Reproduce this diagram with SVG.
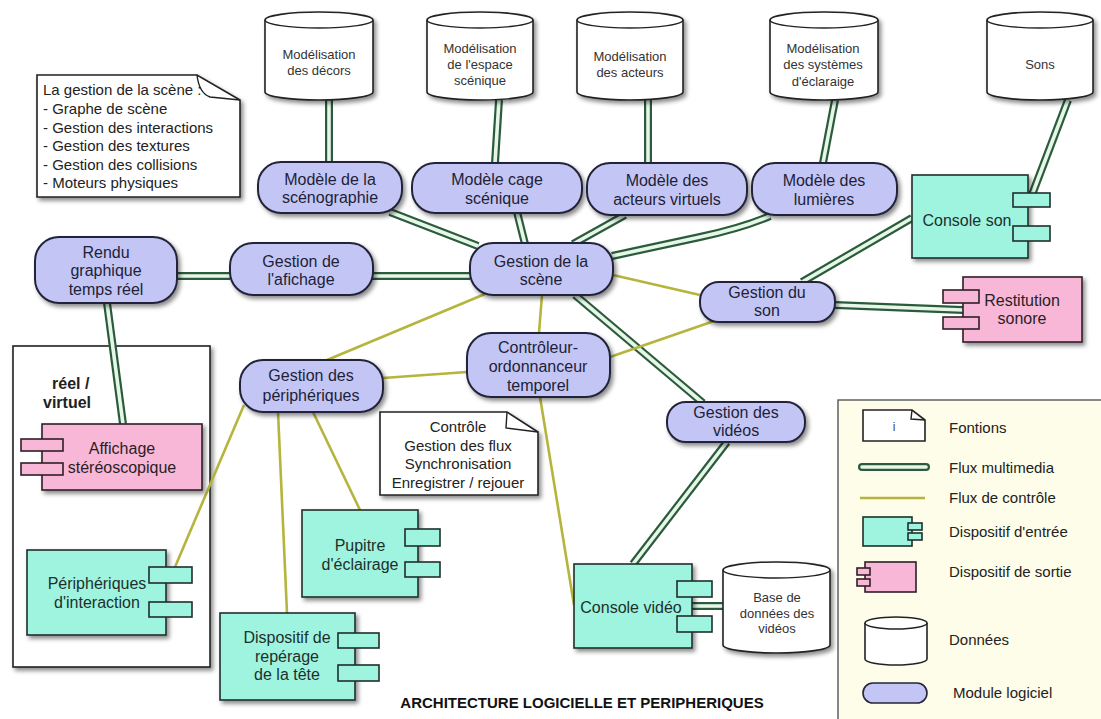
<svg xmlns="http://www.w3.org/2000/svg" xmlns:xlink="http://www.w3.org/1999/xlink" width="1101" height="719" viewBox="0 0 1101 719">
<defs>
<filter id="sh" x="-20%" y="-20%" width="140%" height="150%">
<feDropShadow dx="2.5" dy="3" stdDeviation="2" flood-color="#000" flood-opacity="0.45"/>
</filter>
<style>
text{font-family:"Liberation Sans",Arial,sans-serif}
.mod{fill:#c3c6f4;stroke:#24243a;stroke-width:2;filter:url(#sh)}
.in{fill:#9ff4df;stroke:#1f2f2b;stroke-width:1.6}
.out{fill:#f8b7d6;stroke:#2e1f27;stroke-width:1.6}
.sh{filter:url(#sh)}
.cyl{fill:#fff;stroke:#222;stroke-width:1.6}
.note{fill:#fff;stroke:#222;stroke-width:1.6}
.fold{fill:none;stroke:#222;stroke-width:1.4}
.po{stroke:#2b5b3b;stroke-width:8;fill:none;stroke-linejoin:round}
.pi{stroke:#e6f7ea;stroke-width:3.6;fill:none;stroke-linejoin:round}
.ctl{stroke:#b5b53d;stroke-width:2.6;fill:none}
.tm{font-size:16px;fill:#1e2238;text-anchor:middle}
.tb{font-size:16px;fill:#1d302c;text-anchor:middle}
.tc{font-size:13px;fill:#333;text-anchor:middle}
.tn{font-size:15px;fill:#222}
.tl{font-size:15px;fill:#222}
</style>
<path id="p1" d="M329,100 V162"/>
<path id="p2" d="M499,100 L495,163"/>
<path id="p3" d="M648,100 V163"/>
<path id="p4" d="M835,100 L823,163"/>
<path id="p5" d="M1068,100 L1030,200"/>
<path id="p6" d="M390,212 L478,246"/>
<path id="p7" d="M517,212 L525,244"/>
<path id="p8" d="M625,215 L573,244"/>
<path id="p9" d="M770,216 Q742,228 700,237 L612,256"/>
<path id="p10" d="M177,276 H230"/>
<path id="p11" d="M372,276 H470"/>
<path id="p12" d="M107,303 L123,424"/>
<path id="p13" d="M575,295 L703,403"/>
<path id="p14" d="M802,282 L912,218"/>
<path id="p15" d="M835,305 L963,310"/>
<path id="p16" d="M727,442 L633,564"/>
<path id="p17" d="M692,606 H723"/>
</defs>
<rect width="1101" height="719" fill="#fff"/>

<g id="container-reel-virtuel">
<rect x="13" y="346" width="197" height="321" class="note sh"/>
<text x="52" y="389" style="font-size:16px;font-weight:bold;fill:#222">réel /</text>
<text x="43" y="408" style="font-size:16px;font-weight:bold;fill:#222">virtuel</text>
</g>

<g id="connectors">
<g class="po">
<use xlink:href="#p1"/><use xlink:href="#p2"/><use xlink:href="#p3"/><use xlink:href="#p4"/><use xlink:href="#p5"/><use xlink:href="#p6"/><use xlink:href="#p7"/><use xlink:href="#p8"/><use xlink:href="#p9"/><use xlink:href="#p10"/><use xlink:href="#p11"/><use xlink:href="#p12"/><use xlink:href="#p13"/><use xlink:href="#p14"/><use xlink:href="#p15"/><use xlink:href="#p16"/><use xlink:href="#p17"/>
</g>
<g class="pi">
<use xlink:href="#p1"/><use xlink:href="#p2"/><use xlink:href="#p3"/><use xlink:href="#p4"/><use xlink:href="#p5"/><use xlink:href="#p6"/><use xlink:href="#p7"/><use xlink:href="#p8"/><use xlink:href="#p9"/><use xlink:href="#p10"/><use xlink:href="#p11"/><use xlink:href="#p12"/><use xlink:href="#p13"/><use xlink:href="#p14"/><use xlink:href="#p15"/><use xlink:href="#p16"/><use xlink:href="#p17"/>
</g>
<g class="ctl">
<path d="M485,294 L327,360"/>
<path d="M542,295 L539,333"/>
<path d="M613,275 L700,295"/>
<path d="M610,357 L717,320"/>
<path d="M383,378 L467,372"/>
<path d="M540,397 L574,605"/>
<path d="M244,405 L175,567"/>
<path d="M278,412 L287,613"/>
<path d="M313,412 L360,510"/>
</g>
</g>

<g id="cyl-decors">
<path class="cyl sh" d="M265,20 A54,8 0 0 1 373,20 V92 A54,8 0 0 1 265,92 Z"/>
<path class="fold" d="M265,20 A54,8 0 0 0 373,20"/>
<text class="tc" x="319" y="58.5">Modélisation</text>
<text class="tc" x="319" y="74.5">des décors</text>
</g>
<g id="cyl-espace">
<path class="cyl sh" d="M427,20 A53,8 0 0 1 533,20 V92 A53,8 0 0 1 427,92 Z"/>
<path class="fold" d="M427,20 A53,8 0 0 0 533,20"/>
<text class="tc" x="480" y="52.5">Modélisation</text>
<text class="tc" x="480" y="68.5">de l'espace</text>
<text class="tc" x="480" y="84.5">scénique</text>
</g>
<g id="cyl-acteurs">
<path class="cyl sh" d="M577,20 A53,8 0 0 1 683,20 V92 A53,8 0 0 1 577,92 Z"/>
<path class="fold" d="M577,20 A53,8 0 0 0 683,20"/>
<text class="tc" x="630" y="60.5">Modélisation</text>
<text class="tc" x="630" y="76.5">des acteurs</text>
</g>
<g id="cyl-eclairage">
<path class="cyl sh" d="M770,20 A54,8 0 0 1 878,20 V92 A54,8 0 0 1 770,92 Z"/>
<path class="fold" d="M770,20 A54,8 0 0 0 878,20"/>
<text class="tc" x="823" y="52.5">Modélisation</text>
<text class="tc" x="823" y="69">des systèmes</text>
<text class="tc" x="823" y="85.5">d'éclaraige</text>
</g>
<g id="cyl-sons">
<path class="cyl sh" d="M987,20 A53,8 0 0 1 1093,20 V92 A53,8 0 0 1 987,92 Z"/>
<path class="fold" d="M987,20 A53,8 0 0 0 1093,20"/>
<text class="tc" x="1040" y="68.5">Sons</text>
</g>
<g id="cyl-videos">
<path class="cyl sh" d="M723,570 A53.5,8 0 0 1 830,570 V645 A53.5,8 0 0 1 723,645 Z"/>
<path class="fold" d="M723,570 A53.5,8 0 0 0 830,570"/>
<text class="tc" x="777" y="601.5">Base de</text>
<text class="tc" x="777" y="617.5">données des</text>
<text class="tc" x="777" y="633">vidéos</text>
</g>

<g id="note-gestion-scene">
<path class="note sh" d="M37,75 H197 L240,100 V197 H37 Z"/>
<path class="fold" d="M197,75 Q199,93 210,97 L240,100"/>
<text class="tn" x="43" y="95">La gestion de la scène :</text>
<text class="tn" x="43" y="114">- Graphe de scène</text>
<text class="tn" x="43" y="132.5">- Gestion des interactions</text>
<text class="tn" x="43" y="151">- Gestion des textures</text>
<text class="tn" x="43" y="169.5">- Gestion des collisions</text>
<text class="tn" x="43" y="188">- Moteurs physiques</text>
</g>
<g id="note-controle">
<path class="note sh" d="M380,412 H507 L538,432 V495 H380 Z"/>
<path class="fold" d="M507,412 L506,428 L538,432"/>
<text class="tn" x="458" y="432" text-anchor="middle">Contrôle</text>
<text class="tn" x="458" y="451" text-anchor="middle">Gestion des flux</text>
<text class="tn" x="458" y="469" text-anchor="middle">Synchronisation</text>
<text class="tn" x="458" y="487.5" text-anchor="middle">Enregistrer / rejouer</text>
</g>

<g id="mod-scenographie">
<rect class="mod" x="258" y="162" width="144" height="51" rx="23"/>
<text class="tm" x="330" y="185">Modèle de la</text>
<text class="tm" x="330" y="203">scénographie</text>
</g>
<g id="mod-cage">
<rect class="mod" x="412" y="163" width="170" height="50" rx="23"/>
<text class="tm" x="497" y="185">Modèle cage</text>
<text class="tm" x="497" y="203.5">scénique</text>
</g>
<g id="mod-acteurs">
<rect class="mod" x="587" y="163" width="160" height="52" rx="23"/>
<text class="tm" x="667" y="186">Modèle des</text>
<text class="tm" x="667" y="204.5">acteurs virtuels</text>
</g>
<g id="mod-lumieres">
<rect class="mod" x="752" y="163" width="145" height="52" rx="23"/>
<text class="tm" x="824" y="186">Modèle des</text>
<text class="tm" x="824" y="204.5">lumières</text>
</g>
<g id="mod-scene">
<rect class="mod" x="470" y="243" width="143" height="52" rx="23"/>
<text class="tm" x="541" y="266.5">Gestion de la</text>
<text class="tm" x="541" y="285">scène</text>
</g>
<g id="mod-affichage">
<rect class="mod" x="230" y="243" width="143" height="52" rx="23"/>
<text class="tm" x="301" y="266.5">Gestion de</text>
<text class="tm" x="301" y="285">l'afichage</text>
</g>
<g id="mod-rendu">
<rect class="mod" x="35" y="237" width="142" height="66" rx="24"/>
<text class="tm" x="106" y="257.5">Rendu</text>
<text class="tm" x="106" y="276">graphique</text>
<text class="tm" x="106" y="295">temps réel</text>
</g>
<g id="mod-peripheriques">
<rect class="mod" x="240" y="360" width="143" height="52" rx="23"/>
<text class="tm" x="311" y="381">Gestion des</text>
<text class="tm" x="311" y="400.5">périphériques</text>
</g>
<g id="mod-controleur">
<rect class="mod" x="467" y="333" width="143" height="64" rx="24"/>
<text class="tm" x="538" y="353">Contrôleur-</text>
<text class="tm" x="538" y="372">ordonnanceur</text>
<text class="tm" x="538" y="391">temporel</text>
</g>
<g id="mod-son">
<rect class="mod" x="700" y="282" width="135" height="40" rx="19"/>
<text class="tm" x="767" y="298">Gestion du</text>
<text class="tm" x="767" y="316">son</text>
</g>
<g id="mod-videos">
<rect class="mod" x="667" y="402" width="138" height="40" rx="19"/>
<text class="tm" x="736" y="418">Gestion des</text>
<text class="tm" x="736" y="436">vidéos</text>
</g>

<g id="dev-console-son">
<rect class="in sh" x="912" y="175" width="116" height="83"/>
<rect class="in" x="1013" y="193" width="37" height="14"/>
<rect class="in" x="1013" y="226" width="37" height="15"/>
<text class="tb" x="967" y="226">Console son</text>
</g>
<g id="dev-peripheriques-interaction">
<rect class="in sh" x="27" y="550" width="139" height="85"/>
<rect class="in" x="149" y="567" width="43" height="16"/>
<rect class="in" x="149" y="602" width="43" height="15"/>
<text class="tb" x="97" y="589">Périphériques</text>
<text class="tb" x="97" y="608">d'interaction</text>
</g>
<g id="dev-reperage-tete">
<rect class="in sh" x="220" y="613" width="135" height="87"/>
<rect class="in" x="338" y="633" width="41" height="15"/>
<rect class="in" x="338" y="665" width="41" height="16"/>
<text class="tb" x="287" y="643">Dispositif de</text>
<text class="tb" x="287" y="662">repérage</text>
<text class="tb" x="287" y="680">de la tête</text>
</g>
<g id="dev-pupitre">
<rect class="in sh" x="302" y="510" width="116" height="87"/>
<rect class="in" x="405" y="529" width="35" height="17"/>
<rect class="in" x="405" y="562" width="35" height="15"/>
<text class="tb" x="360" y="551">Pupitre</text>
<text class="tb" x="360" y="570">d'éclairage</text>
</g>
<g id="dev-console-video">
<rect class="in sh" x="574" y="564" width="118" height="84"/>
<rect class="in" x="677" y="581" width="35" height="16"/>
<rect class="in" x="677" y="616" width="35" height="16"/>
<text class="tb" x="631" y="613">Console vidéo</text>
</g>

<g id="dev-restitution">
<rect class="out sh" x="963" y="277" width="119" height="65"/>
<rect class="out" x="943" y="290" width="36" height="13"/>
<rect class="out" x="943" y="317" width="36" height="12"/>
<text class="tb" x="1022" y="306" style="fill:#2a1e26">Restitution</text>
<text class="tb" x="1022" y="324" style="fill:#2a1e26">sonore</text>
</g>
<g id="dev-affichage-stereo">
<rect class="out sh" x="42" y="424" width="160" height="66"/>
<rect class="out" x="21" y="439" width="42" height="12"/>
<rect class="out" x="21" y="463" width="42" height="12"/>
<text class="tb" x="122" y="454" style="fill:#2a1e26">Affichage</text>
<text class="tb" x="122" y="473" style="fill:#2a1e26">stéréoscopique</text>
</g>

<g id="legend">
<rect x="838" y="400" width="275" height="330" fill="#fdfde9" stroke="#555" stroke-width="1.4"/>
<path class="note" d="M863,410 H912 L925,420 V441 H863 Z"/>
<path class="fold" d="M912,410 L911,419 L925,420"/>
<text x="894" y="431" style="font-size:12px;fill:#444;text-anchor:middle">i</text>
<text class="tl" x="949" y="433">Fontions</text>
<path d="M862,467 H926" stroke="#2b5b3b" stroke-width="8" stroke-linecap="round" fill="none"/>
<path d="M862,467 H926" stroke="#e6f7ea" stroke-width="3.6" stroke-linecap="round" fill="none"/>
<text class="tl" x="949" y="473">Flux multimedia</text>
<path class="ctl" d="M860,498 H925"/>
<text class="tl" x="949" y="503">Flux de contrôle</text>
<rect class="in" x="863" y="517" width="49" height="29"/>
<rect class="in" x="908" y="523" width="14" height="7"/>
<rect class="in" x="908" y="533" width="14" height="7"/>
<text class="tl" x="949" y="537">Dispositif d'entrée</text>
<rect class="out" x="865" y="562" width="51" height="30"/>
<rect class="out" x="857" y="568" width="13" height="7"/>
<rect class="out" x="857" y="579" width="13" height="7"/>
<text class="tl" x="949" y="577">Dispositif de sortie</text>
<path class="cyl" d="M865,623 A31,6 0 0 1 927,623 V659 A31,6 0 0 1 865,659 Z"/>
<path class="fold" d="M865,623 A31,6 0 0 0 927,623"/>
<text class="tl" x="949" y="645">Données</text>
<rect x="863" y="683" width="64" height="20" rx="10" fill="#c3c6f4" stroke="#24243a" stroke-width="1.6"/>
<text class="tl" x="953" y="698">Module logiciel</text>
</g>

<text x="582" y="708" style="font-size:15px;font-weight:bold;fill:#111;text-anchor:middle">ARCHITECTURE LOGICIELLE ET PERIPHERIQUES</text>
</svg>
